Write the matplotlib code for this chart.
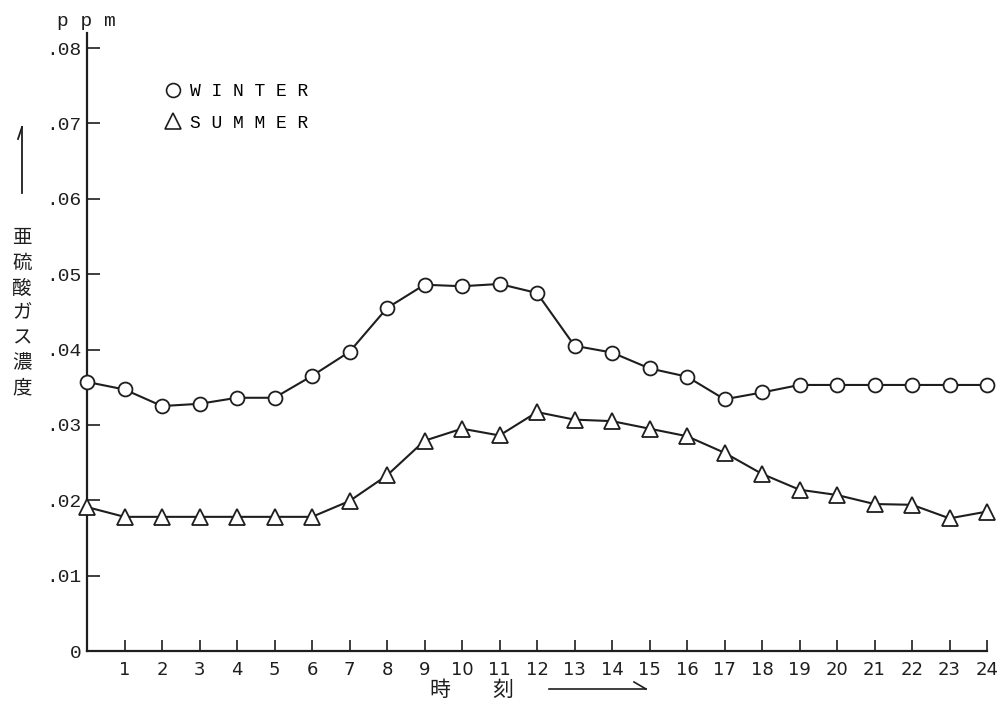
"""Diurnal SO2 concentration, winter vs summer."""
import matplotlib
matplotlib.use("Agg")
import matplotlib.pyplot as plt
from matplotlib.lines import Line2D

hours = list(range(25))
winter = [0.0357, 0.0347, 0.0325, 0.0328, 0.0336, 0.0336, 0.0365, 0.0397,
          0.0455, 0.0486, 0.0484, 0.0487, 0.0475, 0.0405, 0.0396, 0.0375,
          0.0364, 0.0334, 0.0343, 0.0353, 0.0353, 0.0353, 0.0353, 0.0353, 0.0353]
summer = [0.0191, 0.0178, 0.0178, 0.0178, 0.0178, 0.0178, 0.0178, 0.0199,
          0.0233, 0.0279, 0.0295, 0.0286, 0.0317, 0.0307, 0.0305, 0.0295,
          0.0285, 0.0263, 0.0235, 0.0214, 0.0207, 0.0195, 0.0194, 0.0176, 0.0185]
y_ticks = [0, 0.01, 0.02, 0.03, 0.04, 0.05, 0.06, 0.07, 0.08]
y_ticklabels = ["0", ".01", ".02", ".03", ".04", ".05", ".06", ".07", ".08"]
x_ticks = list(range(1, 25))
y_label = "亜硫酸ガス濃度"
x_label = ["時", "刻"]

W, H = 1005, 714
ink = "#1e1e1e"
jp = ["Noto Sans CJK JP", "DejaVu Sans"]
mono = "Liberation Mono"


def px(x, y):
    return (x / W, 1 - y / H)


fig = plt.figure(figsize=(W / 100, H / 100), dpi=100)
fig.patch.set_facecolor("white")
ax = fig.add_axes([87 / W, 63 / H, 900 / W, 618 / H])

ax.plot(hours, winter, color=ink, linewidth=1.5, marker="o", markersize=10,
        markerfacecolor="white", markeredgecolor=ink, markeredgewidth=1.3,
        clip_on=False, zorder=3)
ax.plot(hours, summer, color=ink, linewidth=1.5, marker="^", markersize=11,
        markerfacecolor="white", markeredgecolor=ink, markeredgewidth=1.3,
        clip_on=False, zorder=3)

ax.set_xlim(0, 24)
ax.set_ylim(0, 0.082)
for s in ("top", "right"):
    ax.spines[s].set_visible(False)
for s in ("left", "bottom"):
    ax.spines[s].set_linewidth(1.6)
    ax.spines[s].set_color(ink)

ax.set_xticks(x_ticks)
ax.set_xticklabels([str(h) for h in x_ticks], fontsize=13, color=ink)
ax.set_yticks(y_ticks)
ax.set_yticklabels(y_ticklabels, fontsize=14, color=ink, family=mono)
ax.tick_params(axis="x", direction="in", length=8, width=1.2, pad=7, colors=ink)
ax.tick_params(axis="y", direction="in", length=9, width=1.2, pad=4, colors=ink)

# legend, markers only
handles = [
    Line2D([], [], linestyle="None", marker="o", markersize=10,
           markerfacecolor="white", markeredgecolor=ink, markeredgewidth=1.2),
    Line2D([], [], linestyle="None", marker="^", markersize=11,
           markerfacecolor="white", markeredgecolor=ink, markeredgewidth=1.2),
]
ax.legend(handles, ["W I N T E R", "S U M M E R"], loc="upper left",
          bbox_to_anchor=(0.07, 0.945), frameon=False, handlelength=0.8,
          handletextpad=0.5, labelspacing=0.8,
          prop={"family": mono, "size": 13})

# unit
fig.text(*px(86, 21), "p p m", family=mono, fontsize=14, color=ink,
         ha="center", va="center")

# vertical y label with arrow
fig.text(*px(22, 313), "\n".join(y_label), family=jp, fontsize=14, color=ink,
         ha="center", va="center", linespacing=1.25)
fig.add_artist(Line2D([px(22, 193)[0], px(22, 127)[0]],
                      [px(22, 193)[1], px(22, 127)[1]],
                      transform=fig.transFigure, color=ink, linewidth=1.3))
fig.add_artist(Line2D([px(22, 127)[0], px(18, 139)[0]],
                      [px(22, 127)[1], px(18, 139)[1]],
                      transform=fig.transFigure, color=ink, linewidth=1.3))

# x label with arrow
fig.text(*px(440, 690), x_label[0], family=jp, fontsize=15, color=ink,
         ha="center", va="center")
fig.text(*px(503, 690), x_label[1], family=jp, fontsize=15, color=ink,
         ha="center", va="center")
fig.add_artist(Line2D([px(549, 689)[0], px(646, 689)[0]],
                      [px(549, 689)[1], px(646, 689)[1]],
                      transform=fig.transFigure, color=ink, linewidth=1.2))
fig.add_artist(Line2D([px(646, 689)[0], px(634, 682)[0]],
                      [px(646, 689)[1], px(634, 682)[1]],
                      transform=fig.transFigure, color=ink, linewidth=1.2))

fig.savefig("out.png", dpi=100, facecolor="white")
plt.close(fig)
